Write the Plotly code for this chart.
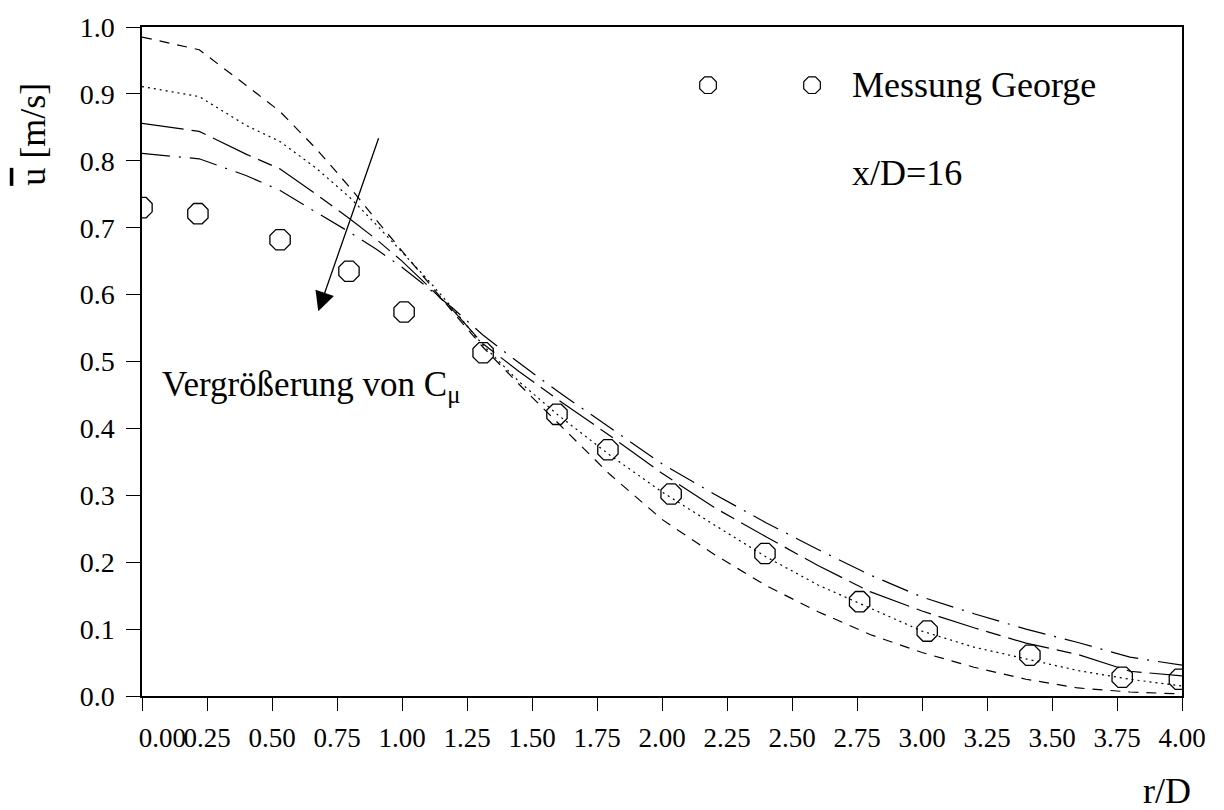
import plotly.graph_objects as go

# Radial profiles of the mean axial velocity at x/D = 16
r_meas = [0.0, 0.215, 0.531, 0.796, 1.008, 1.312, 1.596, 1.792, 2.035, 2.396,
          2.76, 3.02, 3.415, 3.77, 3.99]
u_meas = [0.730, 0.721, 0.682, 0.635, 0.574, 0.513, 0.421, 0.368, 0.302, 0.213,
          0.141, 0.097, 0.061, 0.028, 0.025]

# Simulated profiles (four values of C_mu, increasing from u_c1 to u_c4)
r_sim = [0.0, 0.22, 0.4, 0.53, 0.67, 0.8, 0.9, 1.0, 1.1, 1.2, 1.31, 1.45, 1.6,
         1.8, 2.0, 2.2, 2.4, 2.6, 2.8, 3.0, 3.2, 3.4, 3.6, 3.8, 4.0]
u_c1 = [0.985, 0.966, 0.913, 0.874, 0.818, 0.760, 0.712, 0.665, 0.619, 0.572,
        0.522, 0.466, 0.408, 0.331, 0.264, 0.212, 0.165, 0.126, 0.092, 0.065,
        0.043, 0.025, 0.012, 0.006, 0.003]
u_c2 = [0.911, 0.896, 0.853, 0.829, 0.789, 0.745, 0.705, 0.664, 0.622, 0.577,
        0.525, 0.470, 0.420, 0.360, 0.305, 0.256, 0.208, 0.166, 0.131, 0.097,
        0.073, 0.056, 0.038, 0.025, 0.015]
u_c3 = [0.856, 0.844, 0.810, 0.788, 0.750, 0.713, 0.683, 0.650, 0.613, 0.575,
        0.527, 0.485, 0.443, 0.389, 0.333, 0.282, 0.238, 0.195, 0.156, 0.127,
        0.102, 0.079, 0.062, 0.037, 0.030]
u_c4 = [0.811, 0.803, 0.778, 0.756, 0.723, 0.693, 0.668, 0.641, 0.610, 0.578,
        0.540, 0.498, 0.455, 0.401, 0.347, 0.302, 0.259, 0.219, 0.181, 0.148,
        0.123, 0.100, 0.080, 0.058, 0.046]

x_ticks = [0.0, 0.25, 0.5, 0.75, 1.0, 1.25, 1.5, 1.75, 2.0, 2.25, 2.5, 2.75,
           3.0, 3.25, 3.5, 3.75, 4.0]
x_ticktext = ["\u00a0" * 6 + "0.00"] + [f"{v:.2f}" for v in x_ticks[1:]]

# Legend sample (two symbols, as drawn by the plotting program) and label anchor
legend_sym_x = [2.177, 2.577]
legend_sym_y = [0.913, 0.913]
legend_text_x = 2.723

# Arrow indicating the trend with increasing C_mu (tail -> tip)
arrow_tail = (0.912, 0.836)
arrow_tip = (0.678, 0.575)

FONT = "Liberation Serif, Times New Roman, serif"
BLACK = "#000000"

fig = go.Figure()

sim_styles = [
    (u_c1, "10px,8px"),
    (u_c2, "2px,4px"),
    (u_c3, "42px,8px,15px,8px"),
    (u_c4, "28px,9px,2px,9px"),
]
for u, dash in sim_styles:
    fig.add_trace(go.Scatter(
        x=r_sim, y=u, mode="lines", showlegend=False,
        line=dict(color=BLACK, width=1.2, dash=dash),
    ))

fig.add_trace(go.Scatter(
    x=r_meas, y=u_meas, mode="markers", name="Messung George", showlegend=False,
    marker=dict(symbol="octagon-open", size=22, color=BLACK,
                line=dict(color=BLACK, width=1.3)),
))

fig.add_trace(go.Scatter(
    x=legend_sym_x, y=legend_sym_y, mode="markers", showlegend=False,
    marker=dict(symbol="octagon-open", size=18, color=BLACK,
                line=dict(color=BLACK, width=1.2)),
))

annotations = [
    dict(x=legend_text_x, y=legend_sym_y[0], xref="x", yref="y",
         text="Messung George", showarrow=False, xanchor="left", yanchor="middle",
         font=dict(family=FONT, size=36, color=BLACK)),
    dict(x=legend_text_x, y=0.782, xref="x", yref="y",
         text="x/D=16", showarrow=False, xanchor="left", yanchor="middle",
         font=dict(family=FONT, size=36, color=BLACK)),
    dict(x=0.069, y=0.462, xref="x", yref="y",
         text="Vergrößerung von C<sub>μ</sub>", showarrow=False,
         xanchor="left", yanchor="middle",
         font=dict(family=FONT, size=35, color=BLACK)),
    dict(x=arrow_tip[0], y=arrow_tip[1], ax=arrow_tail[0], ay=arrow_tail[1],
         xref="x", yref="y", axref="x", ayref="y", text="",
         showarrow=True, arrowhead=2, arrowsize=3.0, arrowwidth=1.3,
         arrowcolor=BLACK),
    dict(x=-0.105, y=0.84, xref="paper", yref="paper",
         text="<span style='text-decoration:overline'>u</span> [m/s]",
         textangle=-90, showarrow=False, xanchor="center", yanchor="middle",
         font=dict(family=FONT, size=36, color=BLACK)),
    dict(x=0.9856, y=-0.142, xref="paper", yref="paper", text="r/D",
         showarrow=False, xanchor="center", yanchor="middle",
         font=dict(family=FONT, size=36, color=BLACK)),
]

fig.update_layout(
    width=1224, height=810,
    margin=dict(l=142, r=42, t=20, b=114),
    paper_bgcolor="white", plot_bgcolor="white",
    font=dict(family=FONT, color=BLACK),
    annotations=annotations,
    showlegend=False,
)

fig.update_xaxes(
    range=[0, 4.0], tickvals=x_ticks, ticktext=x_ticktext, tickangle=0,
    ticks="outside", ticklen=13, tickwidth=1, tickcolor=BLACK,
    showline=True, linewidth=1.5, linecolor=BLACK, mirror=True,
    showgrid=False, zeroline=False, ticklabelstandoff=4,
    tickfont=dict(family=FONT, size=27, color=BLACK),
)
fig.update_yaxes(
    range=[0, 1.0], dtick=0.1, tick0=0, tickformat=".1f",
    ticks="outside", ticklen=14, tickwidth=1, tickcolor=BLACK,
    showline=True, linewidth=1.5, linecolor=BLACK, mirror=True,
    showgrid=False, zeroline=False, ticklabelstandoff=6,
    tickfont=dict(family=FONT, size=28, color=BLACK),
)

fig.write_html("out.html")
